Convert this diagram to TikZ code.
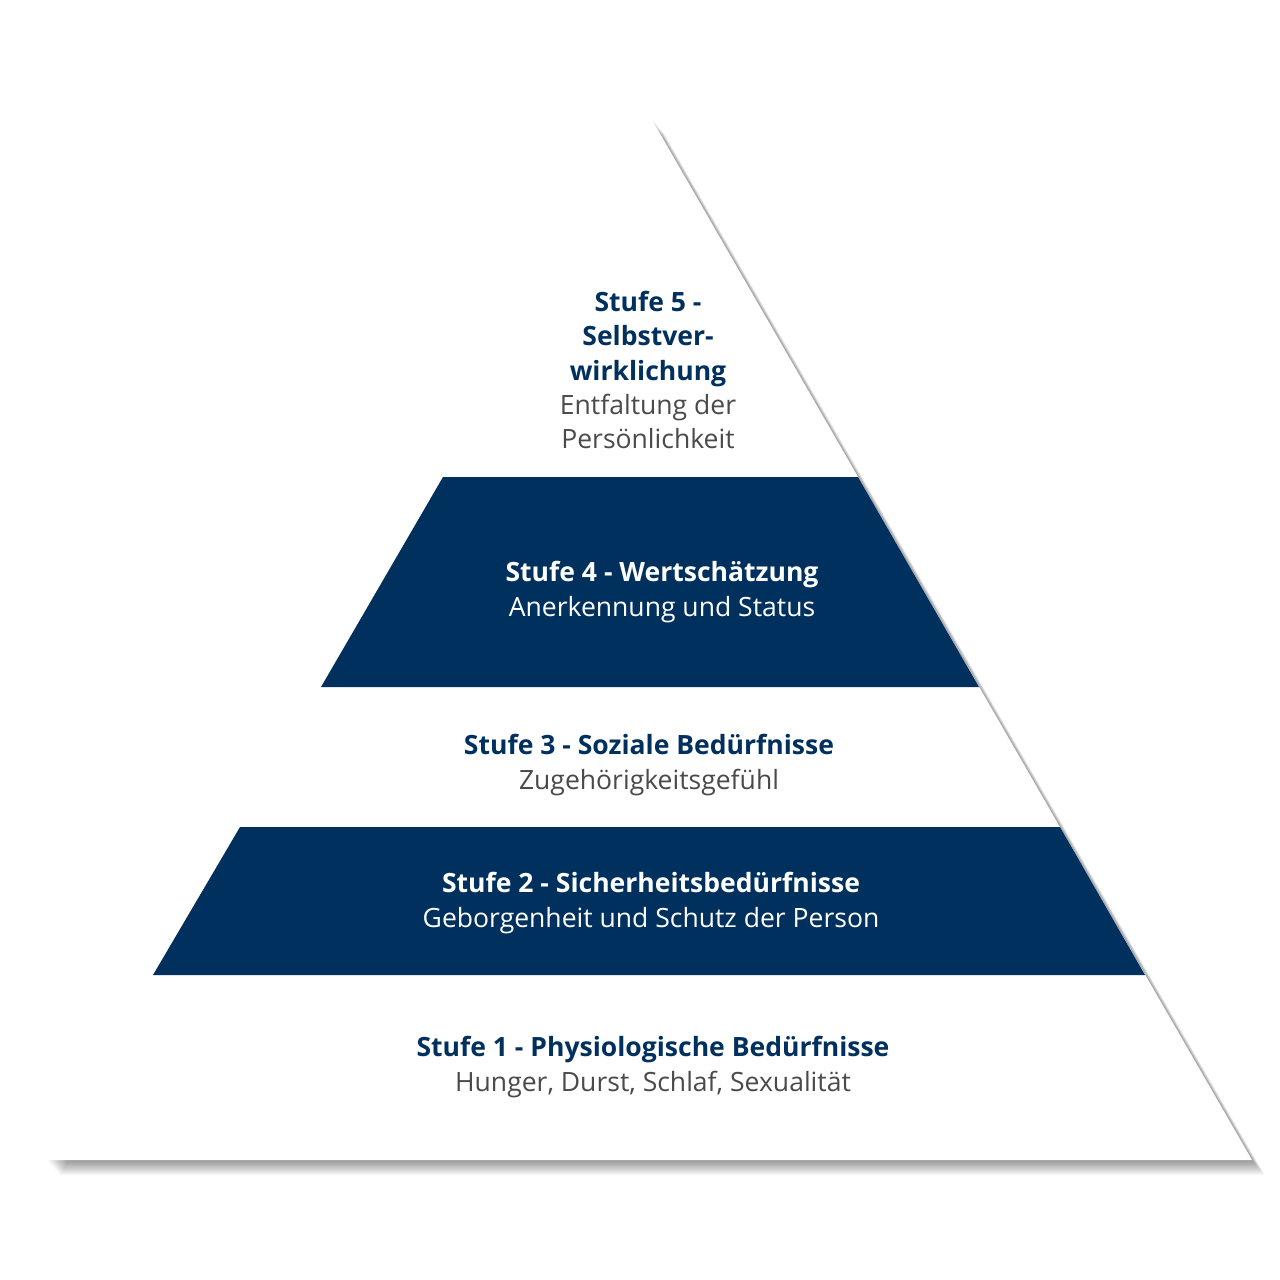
\documentclass[tikz,border=0pt]{standalone}
\usepackage{fontspec}
\setmainfont{Open Sans}
\usetikzlibrary{calc}
\definecolor{navy}{HTML}{00305E}
\definecolor{subgray}{HTML}{4A4A4A}
\begin{document}
\begin{tikzpicture}[x=0.1mm,y=-0.1mm,
  lvl/.style={align=center,inner sep=0pt,font=\fontsize{7.55pt}{9.7pt}\selectfont},
  band/.style={fill=navy}]
\useasboundingbox (0,0) rectangle (1280,1280);
\fill[white] (0,0) rectangle (1280,1280);
% shadow
\foreach \i in {1,...,16}{
  \fill[black,opacity=0.028] (651+\i*0.8,118+\i*0.95) -- (1252+\i*0.8,1160+\i*0.95) -- (47+\i*0.8,1160+\i*0.95) -- cycle;
}
\coordinate (apex) at (651,118);
\coordinate (bl) at (47,1160);
\coordinate (br) at (1252,1160);
\fill[white] (apex) -- (br) -- (bl) -- cycle;
% bands
\fill[band] (443,477) -- (858,477) -- (979,687) -- (321,687) -- cycle;
\fill[band] (240,827) -- (1060,827) -- (1145,975) -- (153,975) -- cycle;
% texts
\node[lvl,text=subgray] (s5) at (648,370) {{\color{navy}\bfseries Stufe 5 -}\\{\color{navy}\bfseries Selbstver-}\\{\color{navy}\bfseries wirklichung}\\Entfaltung der\\Persönlichkeit};
\node[lvl,text=white] (s4) at (662,592) {{\bfseries Stufe 4 - Wertschätzung}\\Anerkennung und Status};
\node[lvl,text=subgray] (s3) at (649,765) {{\color{navy}\bfseries Stufe 3 - Soziale Bedürfnisse}\\Zugehörigkeitsgefühl};
\node[lvl,text=white] (s2) at (651,903) {{\bfseries Stufe 2 - Sicherheitsbedürfnisse}\\Geborgenheit und Schutz der Person};
\node[lvl,text=subgray] (s1) at (653,1067) {{\color{navy}\bfseries Stufe 1 - Physiologische Bedürfnisse}\\Hunger, Durst, Schlaf, Sexualität};
\end{tikzpicture}
\end{document}
